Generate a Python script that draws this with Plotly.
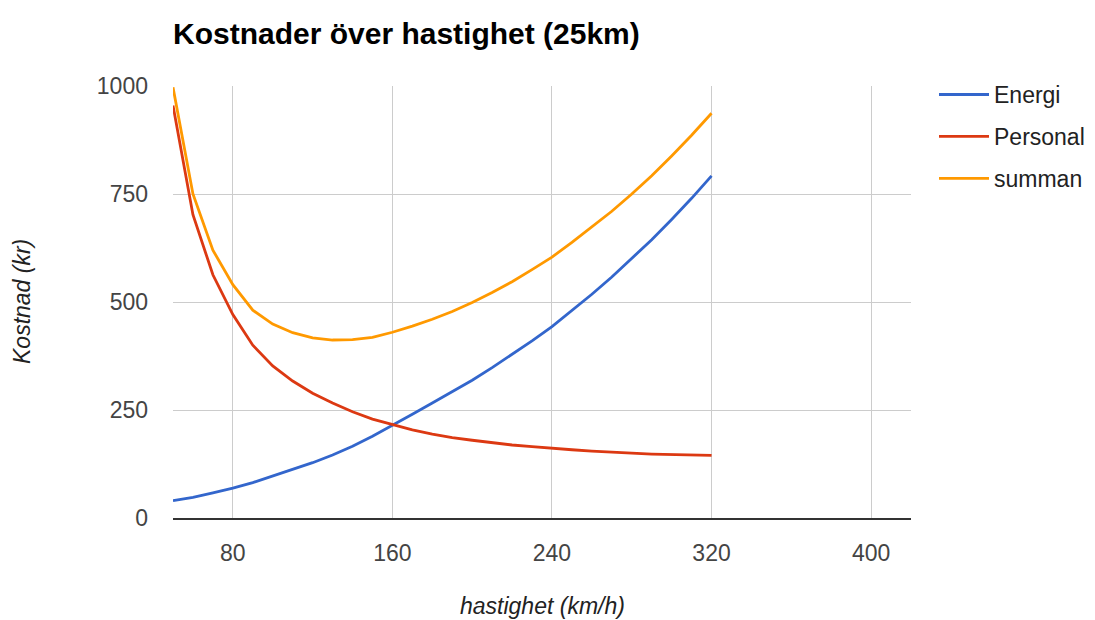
import plotly.graph_objects as go

hastighet = [50, 60, 70, 80, 90, 100, 110, 120, 130, 140, 150, 160, 170, 180, 190,
             200, 210, 220, 230, 240, 250, 260, 270, 280, 290, 300, 310, 320]
energi = [40, 48, 58, 69, 82, 97, 112, 128, 146, 166, 189, 214, 240, 266, 292,
          319, 348, 378, 410, 443, 480, 518, 558, 600, 644, 691, 740, 792]
personal = [955, 702, 563, 471, 400, 352, 317, 289, 266, 246, 229, 216, 204, 194, 186,
            180, 174, 169, 165, 161, 158, 155, 152, 150, 148, 147, 146, 145]
summan = [997, 750, 620, 540, 481, 449, 429, 417, 412, 413, 418, 430, 444, 460, 478,
          499, 522, 547, 575, 604, 638, 673, 710, 750, 792, 838, 886, 937]

x_ticks = [80, 160, 240, 320, 400]
y_ticks = [0, 250, 500, 750, 1000]

series = [("Energi", energi, "#3366CC"),
          ("Personal", personal, "#DC3912"),
          ("summan", summan, "#FF9900")]

FONT = "Liberation Sans, Arial, sans-serif"
FS = 23

fig = go.Figure()
for i, (name, vals, col) in enumerate(series):
    fig.add_trace(go.Scatter(
        x=hastighet, y=vals, mode="lines", name=name,
        legendgroup=f"g{i}",
        line=dict(color=col, width=2.8, shape="linear"),
    ))

W, H = 1095, 620
ML, MR, MT, MB = 173, 184, 86, 102
pw = W - ML - MR
ph = H - MT - MB

fig.update_layout(
    width=W, height=H,
    margin=dict(l=ML, r=MR, t=MT, b=MB, autoexpand=False),
    paper_bgcolor="white", plot_bgcolor="white",
    font=dict(family=FONT, size=FS, color="#444"),
    title=dict(text="<b>Kostnader över hastighet (25km)</b>",
               font=dict(family=FONT, size=30, color="#000"),
               x=0, xref="paper", xanchor="left",
               y=1 - 33 / H, yref="container", yanchor="middle"),
    xaxis=dict(range=[50, 420], tickvals=x_ticks, showgrid=True,
               gridcolor="#cccccc", gridwidth=1.3, zeroline=False,
               showline=True, linecolor="#333333", linewidth=2,
               ticks="", ticklabelstandoff=13,
               tickfont=dict(family=FONT, size=FS, color="#444")),
    yaxis=dict(range=[0, 1000], tickvals=y_ticks, showgrid=True,
               gridcolor="#cccccc", gridwidth=1.3, zeroline=False,
               showline=False, ticks="", ticklabelstandoff=24,
               tickfont=dict(family=FONT, size=FS, color="#444")),
    legend=dict(x=(934 - ML) / pw, xanchor="left", y=1.03, yanchor="top",
                font=dict(family=FONT, size=FS, color="#222"),
                itemwidth=50,
                tracegroupgap=9, traceorder="grouped",
                bgcolor="rgba(0,0,0,0)"),
    showlegend=True,
    annotations=[
        dict(text="<i>Kostnad (kr)</i>", xref="paper", yref="paper",
             x=(22 - ML) / pw, y=0.5, xanchor="center", yanchor="middle",
             textangle=-90, showarrow=False,
             font=dict(family=FONT, size=FS, color="#222")),
        dict(text="<i>hastighet (km/h)</i>", xref="paper", yref="paper",
             x=0.5, y=(518 - 606) / ph, xanchor="center", yanchor="middle",
             showarrow=False,
             font=dict(family=FONT, size=FS, color="#222")),
    ],
)

fig.write_html("out.html")
